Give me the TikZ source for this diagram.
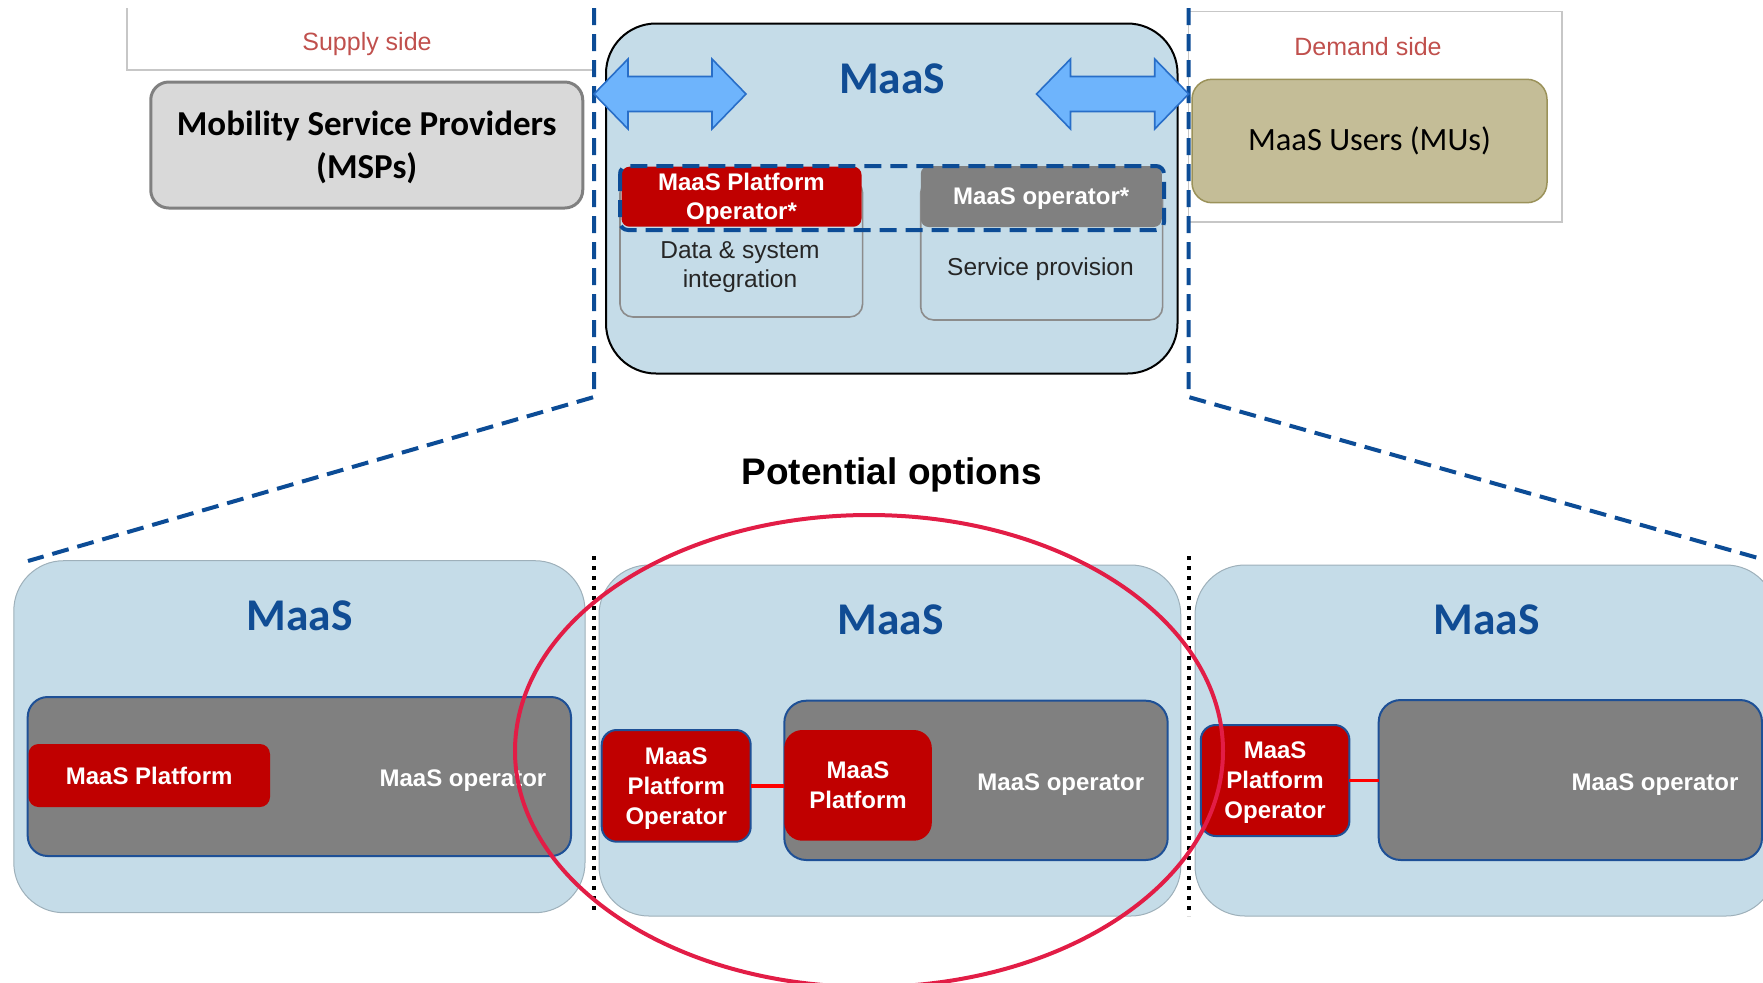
\documentclass[tikz,border=0pt]{standalone}
\usepackage{fontspec}
\setmainfont{Liberation Sans}
\newfontfamily\calibri{Carlito}
\usepackage{tikz}
\usetikzlibrary{shapes,positioning}
\definecolor{maasblue}{RGB}{197,220,232}
\definecolor{titleblue}{RGB}{16,76,148}
\definecolor{dashblue}{RGB}{12,76,150}
\definecolor{boxred}{RGB}{192,0,0}
\definecolor{boxgrey}{RGB}{128,128,128}
\definecolor{edgeblue}{RGB}{30,80,150}
\definecolor{ringred}{RGB}{226,29,70}
\definecolor{arrowfill}{RGB}{110,180,252}
\definecolor{arrowedge}{RGB}{40,110,200}
\definecolor{sidered}{RGB}{192,80,77}
\definecolor{mspgrey}{RGB}{217,217,217}
\definecolor{mufill}{RGB}{196,189,151}
\definecolor{muedge}{RGB}{155,146,90}
\tikzstyle{card}=[rectangle,inner sep=0pt,outer sep=0pt]
\tikzstyle{maasbox}=[card,fill=maasblue,rounded corners=25pt]
\tikzstyle{panel}=[maasbox,draw=black!20!maasblue,line width=0.5pt]
\tikzstyle{greybox}=[card,fill=boxgrey,draw=edgeblue,line width=1pt,rounded corners=10pt]
\tikzstyle{redbox}=[card,fill=boxred,text=white,align=center,rounded corners=5pt,text depth=0pt,
               font=\bfseries\fontsize{12}{15}\selectfont]
\tikzstyle{optxt}=[text=white,text depth=0pt,font=\bfseries\fontsize{12}{15}\selectfont]
\tikzstyle{hdr}=[text=titleblue,font=\calibri\bfseries\fontsize{22.7}{27}\selectfont]
\tikzstyle{sidetxt}=[text=sidered,font=\fontsize{12.5}{15}\selectfont]
\tikzstyle{roletxt}=[text=black!85,align=center,text depth=0pt,font=\fontsize{12.25}{14.5}\selectfont]
\tikzstyle{bigdash}=[draw=dashblue,line width=2pt,dash pattern=on 8.5pt off 4.5pt]
\tikzstyle{divider}=[line width=2pt,dash pattern=on 2pt off 3pt]
\tikzstyle{link}=[draw=red,line width=1.8pt]
\tikzstyle{blockarrow}=[fill=arrowfill,draw=arrowedge,line width=0.8pt,line join=miter]

\begin{document}
\begin{tikzpicture}[x=0.5pt,y=-0.5pt]
\useasboundingbox (0,0) rectangle (1763,982);
\clip (0,0) rectangle (1763,982);

% supply and demand side
\node (supply) [card,minimum width=233.5pt,minimum height=31pt] at (360.5,39) {};
\draw[black!22,line width=0.6pt] (supply.north west) -- (supply.south west) -- (supply.south east);
\node (supplytxt) [sidetxt] at (367,44) {Supply side};
\node (demand) [card,draw=black!22,line width=0.6pt,minimum width=186.75pt,minimum height=105.15pt] at (1375.25,116.85) {};
\node (demandtxt) [sidetxt] at (1368,47) {Demand side};
\node (msp) [card,fill=mspgrey,draw=boxgrey,line width=1.5pt,rounded corners=9pt,
  minimum width=216pt,minimum height=63pt,align=center,text depth=0pt,
  font=\calibri\bfseries\fontsize{17.5}{21.4}\selectfont] at (366.75,145) {Mobility Service Providers\\(MSPs)};
\node (mu) [card,fill=mufill,draw=muedge,line width=0.75pt,rounded corners=10pt,
  minimum width=177.5pt,minimum height=61.7pt,
  font=\calibri\fontsize{16.25}{19.5}\selectfont] at (1369.5,141) {MaaS Users (MUs)};

\draw[bigdash] (594,8) -- (594,397) -- (28,561);
\draw[bigdash] (1188.5,8) -- (1188.5,397) -- (1790,567);

% MaaS in the middle
\node (maas) [maasbox,draw=black,line width=1pt,minimum width=285.75pt,minimum height=175pt] at (891.75,198.5) {};
\node (maashdr) [hdr] at (892,79) {MaaS};
\foreach \xa/\xb in {594/746,1036.5/1188.7}
  \draw[blockarrow] (\xa,94) -- ++(34,-35) -- ++(0,17.5) -- (\xb-34,76.5) -- ++(0,-17.5) -- (\xb,94)
    -- ++(-34,35) -- ++(0,-17.5) -- (\xa+34,111.5) -- ++(0,17.5) -- cycle;
\node (datab) [card,fill=maasblue,draw=black!45,line width=0.8pt,rounded corners=6.5pt,
  minimum width=121.3pt,minimum height=68.5pt] at (741.3,248.5) {};
\node (serv) [card,fill=maasblue,draw=black!45,line width=0.8pt,rounded corners=6.5pt,
  minimum width=120.95pt,minimum height=70pt] at (1041.65,250) {};
\node (datatxt) [roletxt] at (740,265) {Data \& system\\integration};
\node (servtxt) [roletxt] at (1040.5,267) {Service provision};
\node (mpo) [redbox,rounded corners=4pt,minimum width=120pt,minimum height=30pt,
  font=\bfseries\fontsize{12}{14.5}\selectfont] at (741.5,196.7) {MaaS Platform\\Operator*};
\node (mop) [card,fill=boxgrey,rounded corners=4pt,minimum width=120.5pt,minimum height=30.5pt,optxt] at (1041.25,196.5) {MaaS operator*};
\draw[bigdash,rounded corners=4pt] (620,166) rectangle (1164,230);

\node (options) [text depth=0pt,font=\bfseries\fontsize{18.5}{22}\selectfont] at (891.6,471) {Potential options};

% the three options
\node (opt1) [panel,minimum width=285.6pt,minimum height=176pt] at (299.4,736.7) {};
\node (opt2) [panel,minimum width=290.9pt,minimum height=175.5pt] at (889.9,740.5) {};
\node (opt3) [panel,minimum width=290.5pt,minimum height=175.5pt] at (1485.5,740.5) {};
\node (hdr1) [hdr] at (299.6,616) {MaaS};
\node (hdr2) [hdr] at (890.7,620) {MaaS};
\node (hdr3) [hdr] at (1486.6,620) {MaaS};

\node (grey1) [greybox,minimum width=271.65pt,minimum height=79.5pt] at (299.35,776.5) {};
\node (plat1) [redbox,minimum width=120.75pt,minimum height=31.5pt] at (149.25,775.5) {MaaS Platform};
\node (op1) [optxt] at (463,777.7) {MaaS operator};

\node (pop2) [redbox,draw=edgeblue,line width=1pt,rounded corners=7.5pt,
  minimum width=74.5pt,minimum height=55.85pt] at (676.2,785.85) {MaaS\\Platform\\Operator};
\node (grey2) [greybox,rounded corners=11pt,minimum width=191.7pt,minimum height=79.65pt] at (976,780.35) {};
\node (plat2) [redbox,rounded corners=9pt,minimum width=73.75pt,minimum height=55.35pt] at (858.05,785.35) {MaaS\\Platform};
\node (op2) [optxt] at (1060.8,781.7) {MaaS operator};
\draw[link] (pop2.east) -- (pop2.east -| grey2.west);

\node (pop3) [redbox,draw=edgeblue,line width=1pt,rounded corners=7.5pt,
  minimum width=74.3pt,minimum height=55.5pt] at (1275.1,780.5) {MaaS\\Platform\\Operator};
\node (grey3) [greybox,rounded corners=11pt,minimum width=191.65pt,minimum height=80pt] at (1570.35,780) {};
\node (op3) [optxt] at (1655,781.7) {MaaS operator};
\draw[link] (pop3.east) -- (pop3.east -| grey3.west);

\draw[divider] (593.7,556) -- (593.7,915);
\draw[divider] (1188.5,556) -- (1188.5,916);

\draw[ringred,line width=2pt] (869,751) ellipse [x radius=354,y radius=236];
\end{tikzpicture}
\end{document}
